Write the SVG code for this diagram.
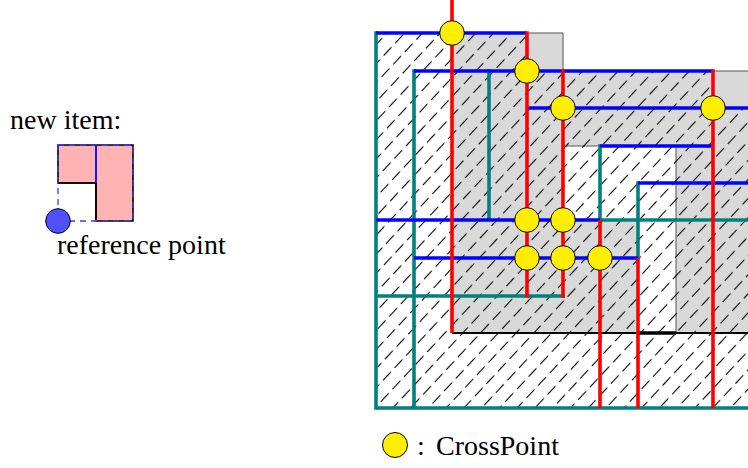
<svg xmlns="http://www.w3.org/2000/svg" width="748" height="468" viewBox="0 0 748 468">
<style>
text{font-family:"Liberation Serif","Times New Roman",serif;font-size:28px;fill:#000}
.bl{stroke:#0000ff;stroke-width:3.6;fill:none}
.rd{stroke:#ff0000;stroke-width:3.6;fill:none}
.tl{stroke:#008080;stroke-width:3.6;fill:none}
.cp{fill:#ffee00;stroke:#000;stroke-width:1}
</style>
<defs>
<pattern id="hatch" patternUnits="userSpaceOnUse" width="17" height="13" patternTransform="rotate(-47)">
<line x1="0" y1="6.5" x2="11.5" y2="6.5" stroke="#000" stroke-width="1.1"/>
</pattern>
</defs>
<rect width="748" height="468" fill="#fff"/>

<g id="new-item">
<text x="10" y="129">new item:</text>
<path d="M58,145 H133 V221 H96 V183 H58 Z" fill="#ffb3b3" stroke="#000" stroke-width="1.6"/>
<line x1="96" y1="183" x2="96" y2="221" stroke="#000" stroke-width="1.6"/>
<line x1="58" y1="183" x2="96" y2="183" stroke="#000" stroke-width="1.6"/>
<rect x="58" y="145" width="75" height="76" fill="none" stroke="#3a3aff" stroke-width="1.3" stroke-dasharray="6 5"/>
<line x1="96" y1="145" x2="96" y2="183" stroke="#0000ff" stroke-width="1.8"/>
</g>
<g id="reference-point">
<circle cx="58" cy="221" r="12.3" fill="#5050ff" stroke="#000" stroke-width="1"/>
<text x="57" y="254">reference point</text>
</g>

<g id="placed-items">
<path d="M452,33 H563 V71 H760 V333 H452 Z M563,146 H676 V333 H638 V220 H563 Z" fill="#d9d9d9" fill-rule="evenodd" stroke="#555" stroke-width="1"/>
<line x1="452" y1="333" x2="760" y2="333" stroke="#000" stroke-width="2"/>
<line x1="638" y1="333" x2="676" y2="333" stroke="#000" stroke-width="3.5"/>
</g>

<g id="hatch-region">
<path d="M376,33 H527 V71 H713 V108 H760 V408 H376 Z" fill="url(#hatch)"/>
</g>

<g id="boundaries">
<g class="tl">
<line x1="376" y1="31.2" x2="376" y2="409.8"/>
<line x1="414" y1="69.2" x2="414" y2="408"/>
<line x1="489" y1="69.2" x2="489" y2="220"/>
<line x1="600" y1="144.2" x2="600" y2="220"/>
<line x1="638" y1="181.2" x2="638" y2="258"/>
<line x1="600" y1="220" x2="760" y2="220"/>
<line x1="376" y1="296" x2="564.8" y2="296"/>
<line x1="376" y1="408" x2="760" y2="408"/>
</g>
<g class="bl">
<line x1="376" y1="33" x2="527" y2="33"/>
<line x1="414" y1="71" x2="713" y2="71"/>
<line x1="527" y1="108" x2="760" y2="108"/>
<line x1="600" y1="146" x2="713" y2="146"/>
<line x1="638" y1="183" x2="760" y2="183"/>
<line x1="376" y1="220" x2="600" y2="220"/>
<line x1="414" y1="258" x2="638" y2="258"/>
</g>
<g class="rd">
<line x1="452" y1="0" x2="452" y2="333"/>
<line x1="527" y1="31.2" x2="527" y2="297.8"/>
<line x1="563" y1="69.2" x2="563" y2="297.8"/>
<line x1="600" y1="220" x2="600" y2="408"/>
<line x1="638" y1="258" x2="638" y2="408"/>
<line x1="713" y1="69.2" x2="713" y2="408"/>
</g>
</g>

<g id="cross-points">
<circle class="cp" cx="452" cy="33" r="12.3"/>
<circle class="cp" cx="527" cy="71" r="12.3"/>
<circle class="cp" cx="563" cy="108" r="12.3"/>
<circle class="cp" cx="713" cy="108" r="12.3"/>
<circle class="cp" cx="527" cy="220" r="12.3"/>
<circle class="cp" cx="563" cy="220" r="12.3"/>
<circle class="cp" cx="527" cy="258" r="12.3"/>
<circle class="cp" cx="563" cy="258" r="12.3"/>
<circle class="cp" cx="600" cy="258" r="12.3"/>
</g>

<g id="legend">
<circle class="cp" cx="395" cy="445" r="12.5"/>
<text x="417" y="455">:</text>
<text x="436" y="455">CrossPoint</text>
</g>
</svg>
